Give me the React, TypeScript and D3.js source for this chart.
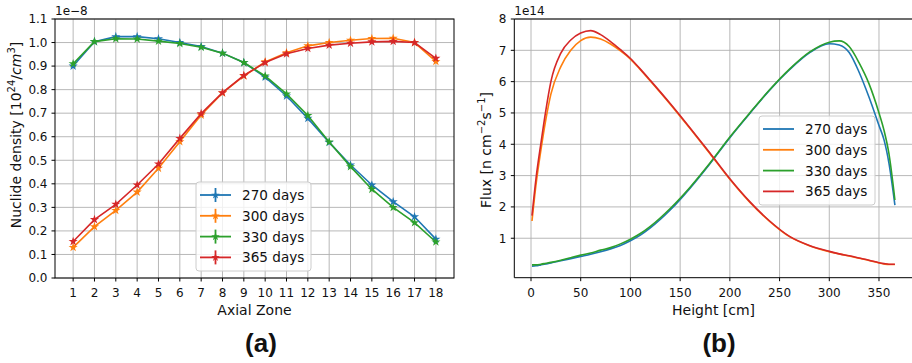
import React from 'react';
import * as d3 from 'd3';

// ---- panel (a): nuclide density per axial zone, in units of 1e-8
const zones = [1, 2, 3, 4, 5, 6, 7, 8, 9, 10, 11, 12, 13, 14, 15, 16, 17, 18];
const density270 = [0.90, 1.004, 1.025, 1.025, 1.016, 1.0, 0.983, 0.955, 0.915, 0.853, 0.773, 0.678, 0.576, 0.48, 0.395, 0.324, 0.26, 0.165];
const density300 = [0.13, 0.218, 0.287, 0.365, 0.466, 0.579, 0.692, 0.786, 0.858, 0.918, 0.957, 0.986, 1.0, 1.01, 1.017, 1.018, 1.0, 0.92];
const density330 = [0.91, 1.004, 1.016, 1.015, 1.006, 0.996, 0.98, 0.955, 0.915, 0.858, 0.782, 0.69, 0.578, 0.473, 0.377, 0.30, 0.235, 0.153];
const density365 = [0.155, 0.248, 0.313, 0.395, 0.484, 0.593, 0.698, 0.787, 0.86, 0.915, 0.952, 0.975, 0.989, 0.997, 1.003, 1.005, 1.0, 0.933];
const densityTicks = [0.0, 0.1, 0.2, 0.3, 0.4, 0.5, 0.6, 0.7, 0.8, 0.9, 1.0, 1.1];

// ---- panel (b): flux vs height, in units of 1e14
const heights = [1, 5, 10, 15, 20, 30, 40, 50, 60, 70, 80, 90, 100, 110, 120, 140, 160, 180, 200, 220, 240, 260, 280, 300, 310, 320, 330, 340, 350, 355, 360, 366];
const flux270 = [0.11, 0.12, 0.15, 0.18, 0.21, 0.28, 0.35, 0.42, 0.49, 0.57, 0.66, 0.77, 0.92, 1.1, 1.33, 1.9, 2.6, 3.38, 4.21, 4.98, 5.73, 6.38, 6.92, 7.21, 7.17, 6.93, 6.3, 5.5, 4.6, 4.15, 3.4, 2.06];
const flux300 = [1.55, 2.7, 3.82, 4.8, 5.6, 6.48, 7.0, 7.31, 7.42, 7.36, 7.2, 6.98, 6.72, 6.38, 6.02, 5.28, 4.5, 3.7, 2.88, 2.15, 1.54, 1.05, 0.76, 0.57, 0.5, 0.43, 0.36, 0.29, 0.21, 0.18, 0.16, 0.16];
const flux330 = [0.15, 0.15, 0.17, 0.2, 0.23, 0.3, 0.38, 0.46, 0.53, 0.62, 0.7, 0.82, 0.97, 1.15, 1.38, 1.95, 2.63, 3.4, 4.23, 5.0, 5.74, 6.4, 6.94, 7.26, 7.3, 7.12, 6.6, 5.93, 5.0, 4.45, 3.7, 2.22];
const flux365 = [1.72, 2.9, 4.04, 5.1, 6.0, 6.91, 7.33, 7.55, 7.63, 7.5, 7.28, 7.02, 6.74, 6.4, 6.04, 5.3, 4.52, 3.72, 2.9, 2.17, 1.55, 1.06, 0.77, 0.58, 0.5, 0.44, 0.37, 0.3, 0.22, 0.19, 0.17, 0.17];
const heightTicks = [0, 50, 100, 150, 200, 250, 300, 350];
const fluxTicks = [1, 2, 3, 4, 5, 6, 7, 8];

const labels = ['270 days', '300 days', '330 days', '365 days'];
const colors = ['#1f77b4', '#ff7f0e', '#2ca02c', '#d62728'];

const densitySeries = [density270, density300, density330, density365];
const fluxSeries = [flux270, flux300, flux330, flux365];

const font = "'DejaVu Sans', sans-serif";
const gridColor = '#b0b0b0';

const Legend = ({x, y, w, h, rowH, withMarker}) => (
  <g transform={`translate(${x},${y})`}>
    <rect width={w} height={h} rx={3} fill="white" fillOpacity={0.8} stroke="#cccccc" strokeWidth={1} />
    {labels.map((l, i) => {
      const cy = 13 + i * rowH;
      return (
        <g key={l}>
          <line x1={4} x2={35} y1={cy} y2={cy} stroke={colors[i]} strokeWidth={1.8} />
          {withMarker && <line x1={19.5} x2={19.5} y1={cy - 7} y2={cy + 7} stroke={colors[i]} strokeWidth={1.8} />}
          {withMarker && <path d={d3.symbol(d3.symbolStar, 22)()} transform={`translate(19.5,${cy})`} fill={colors[i]} />}
          <text x={46} y={cy + 5} fontSize={13.6} fontFamily={font} fill="#111">{l}</text>
        </g>
      );
    })}
  </g>
);

export default function App() {
  // panel (a)
  const ax = d3.scaleLinear().domain([0.15, 18.85]).range([55, 454]);
  const ay = d3.scaleLinear().domain([0, 1.1]).range([278, 19]);
  const aLine = d3.line().x((d) => ax(d[0])).y((d) => ay(d[1]));

  // panel (b)
  const bx = d3.scaleLinear().domain([-16.8, 384.2]).range([514.3, 913]);
  const by = d3.scaleLinear().domain([-0.26, 8]).range([277.7, 19]);
  const bLine = d3.line().x((d) => bx(d[0])).y((d) => by(d[1])).curve(d3.curveMonotoneX);

  const star = d3.symbol(d3.symbolStar, 26)();

  return (
    <svg width={912} height={363} style={{position: 'absolute', left: 0, top: 0, background: 'white'}}>
      {/* ----- panel (a) ----- */}
      <g>
        {zones.map((z) => (
          <line key={'gx' + z} x1={ax(z)} x2={ax(z)} y1={ay.range()[0]} y2={ay.range()[1]} stroke={gridColor} strokeWidth={0.9} />
        ))}
        {densityTicks.map((t) => (
          <line key={'gy' + t} x1={55} x2={454} y1={ay(t)} y2={ay(t)} stroke={gridColor} strokeWidth={0.9} />
        ))}
        {densitySeries.map((s, i) => (
          <g key={'ds' + i}>
            <path d={aLine(zones.map((z, j) => [z, s[j]]))} fill="none" stroke={colors[i]} strokeWidth={1.6} />
            {zones.map((z, j) => (
              <path key={j} d={star} transform={`translate(${ax(z)},${ay(s[j])})`} fill={colors[i]} />
            ))}
          </g>
        ))}
        <rect x={55} y={19} width={399} height={259} fill="none" stroke="black" strokeWidth={1} />
        {zones.map((z) => (
          <g key={'tx' + z}>
            <line x1={ax(z)} x2={ax(z)} y1={278} y2={281.5} stroke="black" />
            <text x={ax(z)} y={296.5} textAnchor="middle" fontSize={12} fontFamily={font} fill="#111">{z}</text>
          </g>
        ))}
        {densityTicks.map((t) => (
          <g key={'ty' + t}>
            <line x1={51.5} x2={55} y1={ay(t)} y2={ay(t)} stroke="black" />
            <text x={47.5} y={ay(t) + 4.3} textAnchor="end" fontSize={12} fontFamily={font} fill="#111">{t.toFixed(1)}</text>
          </g>
        ))}
        <text x={55} y={15} fontSize={12} fontFamily={font} fill="#111">1e−8</text>
        <text x={254.5} y={315} textAnchor="middle" fontSize={14} fontFamily={font} fill="#111">Axial Zone</text>
        <text transform={`translate(21,135) rotate(-90)`} textAnchor="middle" fontSize={14} fontFamily={font} fill="#111">
          Nuclide density [10<tspan dy={-6} fontSize={10}>24</tspan><tspan dy={6}>/</tspan><tspan fontStyle="italic">cm</tspan><tspan dy={-6} fontSize={10}>3</tspan><tspan dy={6}>]</tspan>
        </text>
        <Legend x={196} y={182} w={115} h={89} rowH={20.8} withMarker={true} />
      </g>

      {/* ----- panel (b) ----- */}
      <g>
        {heightTicks.map((t) => (
          <line key={'hx' + t} x1={bx(t)} x2={bx(t)} y1={277.7} y2={19} stroke={gridColor} strokeWidth={0.9} />
        ))}
        {fluxTicks.map((t) => (
          <line key={'hy' + t} x1={514.3} x2={913} y1={by(t)} y2={by(t)} stroke={gridColor} strokeWidth={0.9} />
        ))}
        {fluxSeries.map((s, i) => (
          <path key={'fs' + i} d={bLine(heights.map((h, j) => [h, s[j]]))} fill="none" stroke={colors[i]} strokeWidth={1.6} />
        ))}
        <line x1={514.3} x2={913} y1={19} y2={19} stroke="black" />
        <line x1={514.3} x2={913} y1={277.7} y2={277.7} stroke="black" />
        <line x1={514.3} x2={514.3} y1={19} y2={277.7} stroke="black" />
        {heightTicks.map((t) => (
          <g key={'bt' + t}>
            <line x1={bx(t)} x2={bx(t)} y1={277.7} y2={281.2} stroke="black" />
            <text x={bx(t)} y={296.5} textAnchor="middle" fontSize={12} fontFamily={font} fill="#111">{t}</text>
          </g>
        ))}
        {fluxTicks.map((t) => (
          <g key={'bf' + t}>
            <line x1={510.8} x2={514.3} y1={by(t)} y2={by(t)} stroke="black" />
            <text x={506.5} y={by(t) + 4.3} textAnchor="end" fontSize={12} fontFamily={font} fill="#111">{t}</text>
          </g>
        ))}
        <text x={514.3} y={15} fontSize={12} fontFamily={font} fill="#111">1e14</text>
        <text x={713.6} y={315} textAnchor="middle" fontSize={14} fontFamily={font} fill="#111">Height [cm]</text>
        <text transform={`translate(491,150) rotate(-90)`} textAnchor="middle" fontSize={14} fontFamily={font} fill="#111">
          Flux [n cm<tspan dy={-6} fontSize={10}>−2</tspan><tspan dy={6}>s</tspan><tspan dy={-6} fontSize={10}>−1</tspan><tspan dy={6}>]</tspan>
        </text>
        <Legend x={759} y={116} w={116} h={89} rowH={20.8} withMarker={false} />
      </g>

      <text x={261} y={352} textAnchor="middle" fontSize={26} fontWeight="bold" fontFamily="'Liberation Sans', Arial, sans-serif" fill="#111">(a)</text>
      <text x={719} y={352} textAnchor="middle" fontSize={26} fontWeight="bold" fontFamily="'Liberation Sans', Arial, sans-serif" fill="#111">(b)</text>
    </svg>
  );
}
